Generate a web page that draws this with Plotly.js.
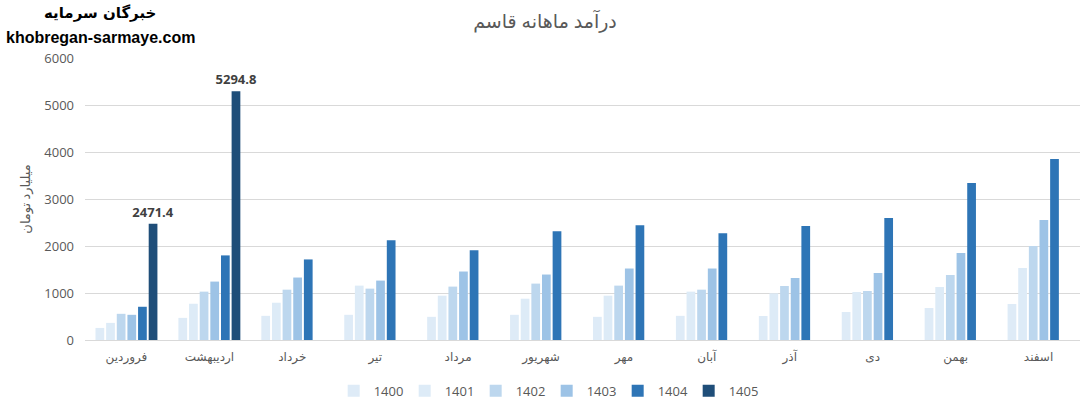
<!DOCTYPE html>
<html><head><meta charset="utf-8">
<script src="https://cdn.plot.ly/plotly-3.0.1.min.js"></script>
<style>html,body{margin:0;padding:0;background:#fff}#c{width:1090px;height:417px}</style>
</head><body><div id="c"></div>
<script>
const months = ['فروردین','اردیبهشت','خرداد','تیر','مرداد','شهریور','مهر','آبان','آذر','دی','بهمن','اسفند'];
const years = ['1400','1401','1402','1403','1404','1405'];
const v1400 = [257, 471, 514, 536, 493, 536, 493, 514, 511, 596, 681, 766];
const v1401 = [364, 771, 793, 1157, 943, 879, 943, 1029, 993, 1021, 1128, 1532];
const v1402 = [557, 1029, 1071, 1093, 1136, 1200, 1157, 1071, 1149, 1043, 1383, 2000];
const v1403 = [536, 1243, 1329, 1264, 1457, 1393, 1521, 1521, 1319, 1426, 1851, 2553];
const v1404 = [707, 1800, 1714, 2121, 1907, 2314, 2443, 2271, 2426, 2596, 3340, 3851];
const v1405 = [2471.4, 5294.8, null, null, null, null, null, null, null, null, null, null];
const colors = ['#DEEBF7', '#DDEBF7', '#BDD7EE', '#9DC3E6', '#2E75B6', '#1F4E79'];
const series = [v1400, v1401, v1402, v1403, v1404, v1405];

const font = 'Open Sans, DejaVu Sans, sans-serif';
const traces = series.map((vals, i) => ({
  type: 'bar', name: years[i], x: months, y: vals,
  marker: {color: colors[i]},
  text: i === 5 ? vals.map(v => v == null ? '' : v.toFixed(1)) : undefined,
  textposition: i === 5 ? 'outside' : 'none',
  constraintext: 'none',
  textfont: {family: font, size: 13, color: '#404040', weight: 'bold'},
  cliponaxis: false,
  hoverinfo: 'none'
}));

const layout = {
  width: 1090, height: 417,
  margin: {l: 85, r: 10, t: 58, b: 77},
  barmode: 'group', bargap: 0.23, bargroupgap: 0.18,
  paper_bgcolor: '#fff', plot_bgcolor: '#fff',
  font: {family: font, color: '#595959'},
  title: {text: 'درآمد ماهانه قاسم', x: 0.5, xanchor: 'center', y: 0.948, yanchor: 'middle',
          font: {family: font, size: 19, color: '#595959'}},
  xaxis: {tickfont: {size: 12, color: '#595959'}, showline: true, linecolor: '#d9d9d9', linewidth: 1,
          ticks: '', showgrid: false, fixedrange: true, ticklabelstandoff: 6},
  yaxis: {range: [0, 6000], dtick: 1000, gridcolor: '#d9d9d9', zeroline: false, showline: false,
          tickfont: {size: 13, color: '#595959'}, ticks: '', ticklen: 0, ticklabelstandoff: 10,
          title: {text: 'میلیارد تومان', font: {size: 13, color: '#595959'}, standoff: 10}},
  legend: {orientation: 'h', x: 0.464, xanchor: 'center', y: -0.18, yanchor: 'middle',
           font: {size: 13, color: '#595959'}, itemwidth: 30, traceorder: 'normal',
           entrywidth: 26, entrywidthmode: 'pixels'},
  showlegend: true,
  annotations: [
    {xref: 'paper', yref: 'paper', x: 0, y: 1.0, xanchor: 'center', yanchor: 'middle',
     text: '<b>خبرگان سرمایه</b>', showarrow: false, font: {family: 'DejaVu Sans, sans-serif', size: 15, color: '#000'},
     yshift: 58 - 13, xshift: 100 - 85},
    {xref: 'paper', yref: 'paper', x: 0, y: 1.0, xanchor: 'center', yanchor: 'middle',
     text: '<b>khobregan-sarmaye.com</b>', showarrow: false, font: {family: 'Liberation Sans, Arial, sans-serif', size: 16, color: '#000'},
     yshift: 58 - 37, xshift: 100 - 85}
  ]
};
Plotly.newPlot('c', traces, layout, {displayModeBar: false, staticPlot: true});
</script></body></html>
